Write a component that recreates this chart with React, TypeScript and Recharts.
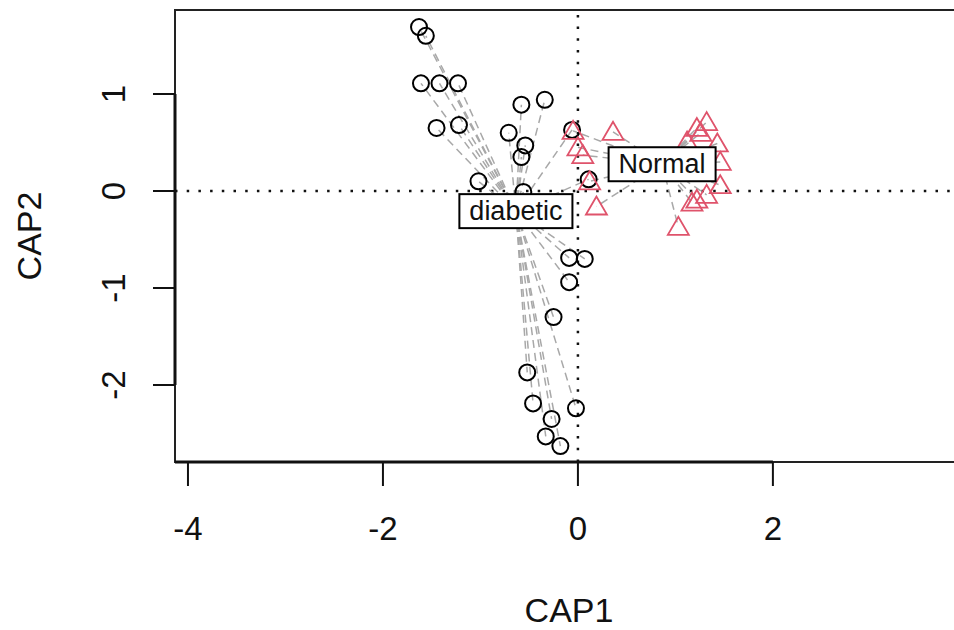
import React from "react";
import {
  ScatterChart,
  Scatter,
  XAxis,
  YAxis,
  ReferenceLine,
  ReferenceArea,
  Label,
} from "recharts";

// CAP scores
const diabetic = [
  { x: -1.63, y: 1.69 }, { x: -1.56, y: 1.6 }, { x: -1.61, y: 1.11 },
  { x: -1.42, y: 1.11 }, { x: -1.23, y: 1.11 }, { x: -1.45, y: 0.65 },
  { x: -1.22, y: 0.68 }, { x: -0.58, y: 0.89 }, { x: -0.34, y: 0.94 },
  { x: -0.71, y: 0.6 }, { x: -0.54, y: 0.47 }, { x: -0.58, y: 0.35 },
  { x: -0.06, y: 0.63 }, { x: -1.02, y: 0.1 }, { x: -0.56, y: -0.01 },
  { x: 0.11, y: 0.12 }, { x: -0.09, y: -0.69 }, { x: 0.07, y: -0.7 },
  { x: -0.09, y: -0.94 }, { x: -0.25, y: -1.3 }, { x: -0.52, y: -1.87 },
  { x: -0.46, y: -2.19 }, { x: -0.27, y: -2.35 }, { x: -0.02, y: -2.24 },
  { x: -0.33, y: -2.53 }, { x: -0.18, y: -2.63 },
];

const normal = [
  { x: -0.05, y: 0.62 }, { x: 0.0, y: 0.45 }, { x: 0.05, y: 0.37 },
  { x: 0.12, y: 0.1 }, { x: 0.19, y: -0.16 }, { x: 0.36, y: 0.61 },
  { x: 1.32, y: 0.71 }, { x: 1.22, y: 0.65 }, { x: 1.26, y: 0.6 },
  { x: 1.12, y: 0.51 }, { x: 1.43, y: 0.49 }, { x: 1.46, y: 0.3 },
  { x: 1.46, y: 0.06 }, { x: 1.32, y: -0.04 }, { x: 1.22, y: -0.09 },
  { x: 1.17, y: -0.12 }, { x: 1.03, y: -0.37 },
];

const groupNames = ["diabetic", "Normal"];
const xTicks = [-4, -2, 0, 2];
const yTicks = [-2, -1, 0, 1];
const xDomain = [-4.133, 3.95];
const yDomain = [-2.794, 1.866];

const mean = (pts: { x: number; y: number }[]) => ({
  x: pts.reduce((s, p) => s + p.x, 0) / pts.length,
  y: pts.reduce((s, p) => s + p.y, 0) / pts.length,
});

const centroids = [
  { ...mean(diabetic), label: groupNames[0] },
  { ...mean(normal), label: groupNames[1] },
];

const FONT = "'Liberation Sans', Arial, Helvetica, sans-serif";
const RED = "#DF536B";

// rough Arial advance widths, used to size the label boxes
const charW: Record<string, number> = {
  a: 0.556, b: 0.556, c: 0.5, d: 0.556, e: 0.556, i: 0.222, t: 0.278,
  N: 0.722, o: 0.556, r: 0.333, m: 0.833, l: 0.222,
};
const textWidth = (s: string, size: number) =>
  s.split("").reduce((w, ch) => w + (charW[ch] ?? 0.55) * size, 0);

const Circle = (props: any) => {
  const { cx, cy } = props;
  if (cx == null || cy == null) return null;
  return <circle cx={cx} cy={cy} r={8} fill="none" stroke="#000" strokeWidth={2} />;
};

const Triangle = (props: any) => {
  const { cx, cy } = props;
  if (cx == null || cy == null) return null;
  return (
    <path
      d={`M${cx},${cy - 10} L${cx - 10.5},${cy + 8} L${cx + 10.5},${cy + 8} Z`}
      fill="none"
      stroke={RED}
      strokeWidth={1.8}
    />
  );
};

const GroupLabel = (props: any) => {
  const { cx, cy, payload } = props;
  if (cx == null || cy == null) return null;
  const size = 27;
  const w = textWidth(payload.label, size) + 20;
  const h = 34;
  return (
    <g>
      <rect x={cx - w / 2} y={cy - h / 2} width={w} height={h} fill="#fff" stroke="#000" strokeWidth={2} />
      <text
        x={cx}
        y={cy + 9}
        textAnchor="middle"
        fontSize={size}
        fontFamily={FONT}
        fill="#111"
      >
        {payload.label}
      </text>
    </g>
  );
};

const XTick = (props: any) => {
  const { x, y, payload } = props;
  return (
    <text x={x} y={y + 52} textAnchor="middle" fontSize={33} fontFamily={FONT} fill="#111">
      {payload.value}
    </text>
  );
};

const YTick = (props: any) => {
  const { x, y, payload } = props;
  const tx = x - 26;
  return (
    <text
      x={tx}
      y={y}
      transform={`rotate(-90, ${tx}, ${y})`}
      textAnchor="middle"
      fontSize={33}
      fontFamily={FONT}
      fill="#111"
    >
      {payload.value}
    </text>
  );
};

const App = () => {
  const spider = [
    ...diabetic.map((p) => [centroids[0], p]),
    ...normal.map((p) => [centroids[1], p]),
  ];

  return (
    <div
      style={{
        position: "absolute",
        left: 0,
        top: 0,
        width: 954,
        height: 630,
        overflow: "hidden",
        background: "#fff",
      }}
    >
      <ScatterChart width={1000} height={630} margin={{ top: 10, right: 37, left: 0, bottom: 0 }}>
        <XAxis
          type="number"
          dataKey="x"
          domain={xDomain}
          ticks={xTicks}
          allowDataOverflow
          height={168}
          axisLine={false}
          tickLine={{ stroke: "#111", strokeWidth: 2 }}
          tickSize={24}
          tick={<XTick />}
        >
          <Label
            content={(p: any) => {
              const vb = p.viewBox;
              return (
                <text x={vb.x + vb.width / 2} y={vb.y + 160} textAnchor="middle" fontSize={34} fontFamily={FONT} fill="#111">
                  CAP1
                </text>
              );
            }}
          />
        </XAxis>
        <YAxis
          type="number"
          dataKey="y"
          domain={yDomain}
          ticks={yTicks}
          allowDataOverflow
          width={175}
          axisLine={false}
          tickLine={{ stroke: "#111", strokeWidth: 2 }}
          tickSize={22}
          tick={<YTick />}
        >
          <Label
            content={(p: any) => {
              const vb = p.viewBox;
              const tx = 41;
              const ty = vb.y + vb.height / 2;
              return (
                <text x={tx} y={ty} transform={`rotate(-90, ${tx}, ${ty})`} textAnchor="middle" fontSize={34} fontFamily={FONT} fill="#111">
                  CAP2
                </text>
              );
            }}
          />
        </YAxis>

        <ReferenceArea
          x1={xDomain[0]}
          x2={xDomain[1]}
          y1={yDomain[0]}
          y2={yDomain[1]}
          fill="none"
          fillOpacity={0}
          stroke="#222"
          strokeWidth={2}
        />
        <ReferenceLine
          segment={[{ x: xDomain[0], y: yDomain[0] }, { x: xTicks[xTicks.length - 1], y: yDomain[0] }]}
          stroke="#111"
          strokeWidth={3}
        />
        <ReferenceLine
          segment={[{ x: xDomain[0], y: yTicks[0] }, { x: xDomain[0], y: yTicks[yTicks.length - 1] }]}
          stroke="#111"
          strokeWidth={3}
        />
        <ReferenceLine x={0} stroke="#111" strokeWidth={2.5} strokeDasharray="2.5 9.2" />
        <ReferenceLine y={0} stroke="#111" strokeWidth={2.5} strokeDasharray="2.5 9.2" />

        {spider.map(([c, p], i) => (
          <ReferenceLine
            key={`sp-${i}`}
            segment={[{ x: c.x, y: c.y }, { x: p.x, y: p.y }]}
            stroke="#a8a8a8"
            strokeWidth={1.5}
            strokeDasharray="8 5"
          />
        ))}

        <Scatter name="diabetic" data={diabetic} shape={<Circle />} isAnimationActive={false} />
        <Scatter name="Normal" data={normal} shape={<Triangle />} isAnimationActive={false} />
        <Scatter name="labels" data={centroids} shape={<GroupLabel />} isAnimationActive={false} />
      </ScatterChart>
    </div>
  );
};

export default App;
